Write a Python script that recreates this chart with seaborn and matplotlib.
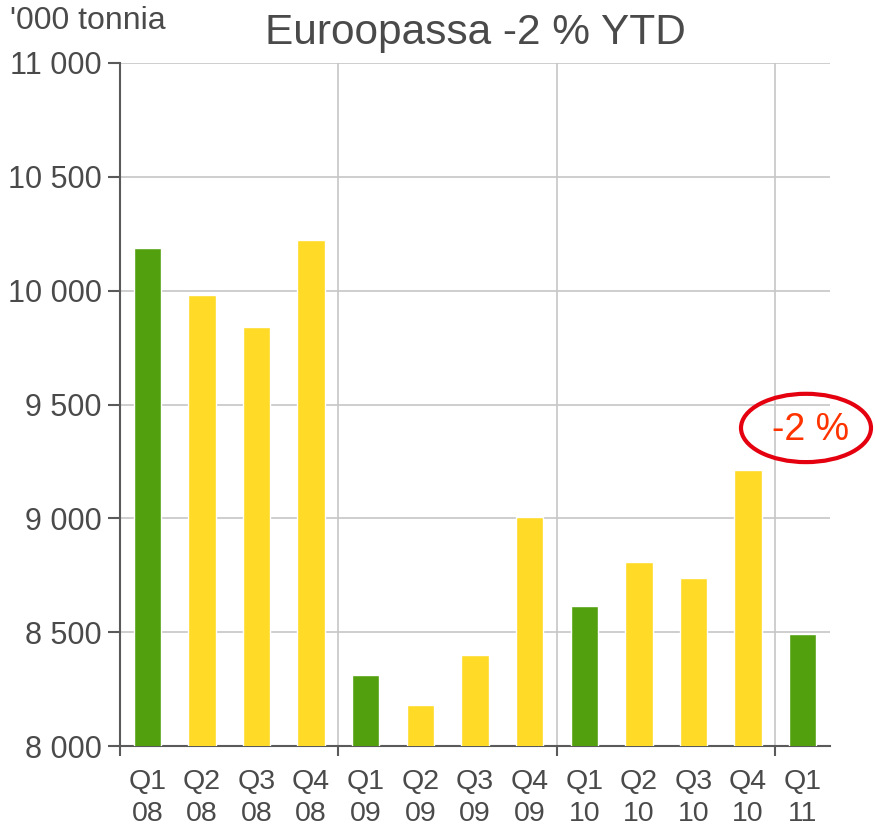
import pandas as pd
import matplotlib.pyplot as plt
import seaborn as sns
from matplotlib.patches import Ellipse
from matplotlib.ticker import FuncFormatter, FixedLocator

# Data
quarters = ['Q1', 'Q2', 'Q3', 'Q4', 'Q1', 'Q2', 'Q3', 'Q4', 'Q1', 'Q2', 'Q3', 'Q4', 'Q1']
years = ['08', '08', '08', '08', '09', '09', '09', '09', '10', '10', '10', '10', '11']
volumes = [10187, 9981, 9840, 10222, 8312, 8180, 8400, 9006, 8615, 8808, 8738, 9212, 8492]

green = '#52A00E'
yellow = '#FFDA26'
text_gray = '#4a4a4a'
grid_gray = '#c6c6c6'

df = pd.DataFrame({
    'label': [f'{q}\n{y}' for q, y in zip(quarters, years)],
    'tonnia': volumes,
    'ryhma': ['Q1' if q == 'Q1' else 'muu' for q in quarters],
})

sns.set_style("white")
plt.rcParams['font.family'] = ['Liberation Sans', 'DejaVu Sans']

fig = plt.figure(figsize=(8.75, 8.33), dpi=100)
ax = fig.add_axes([0.1371, 0.1044, 0.8115, 0.82])

sns.barplot(data=df, x='label', y='tonnia', hue='ryhma',
            palette={'Q1': green, 'muu': yellow}, dodge=False,
            legend=False, width=0.5, ax=ax, zorder=3, saturation=1)

ax.set_ylim(8000, 11000)
ax.set_xlim(-0.5, 12.5)
ax.set_yticks(range(8000, 11001, 500))
ax.yaxis.set_major_formatter(FuncFormatter(lambda v, p: f'{int(v):,}'.replace(',', ' ')))
ax.yaxis.grid(True, color=grid_gray, linewidth=1.2, zorder=0)

# vertical separators between years
for xb in [3.5, 7.5, 11.5]:
    ax.axvline(xb, color=grid_gray, linewidth=1.2, zorder=0)

ax.set_xlabel('')
ax.set_ylabel('')
for side in ['top', 'right']:
    ax.spines[side].set_visible(False)
for side in ['left', 'bottom']:
    ax.spines[side].set_color('#5a5a5a')
    ax.spines[side].set_linewidth(1.5)

ax.tick_params(axis='y', which='major', left=True, length=9, width=1.5,
               color='#5a5a5a', labelsize=22, labelcolor=text_gray, pad=4)
ax.tick_params(axis='x', which='major', bottom=False, labelsize=20.5,
               labelcolor=text_gray, pad=13)
for t in ax.get_xticklabels():
    t.set_linespacing(1.3)

# small ticks on the bottom at the year boundaries
ax.xaxis.set_minor_locator(FixedLocator([-0.5, 3.5, 7.5, 11.5]))
ax.tick_params(axis='x', which='minor', bottom=True, length=7, width=1.5,
               color='#5a5a5a')

ax.set_title('Euroopassa -2 % YTD', fontsize=30.5, color=text_gray, pad=14)
fig.text(0.012, 0.975, "'000 tonnia", fontsize=23, color=text_gray,
         ha='left', va='center')

# highlight of the latest change
ell = Ellipse((12.06, 9397), width=2.38, height=300, fill=False,
              edgecolor='#E5000F', linewidth=3, clip_on=False, zorder=5)
ax.add_patch(ell)
ax.text(12.15, 9390, '-2 %', fontsize=27, color='#FF3300',
        ha='center', va='center', zorder=6)

plt.savefig('out.png', dpi=100)
